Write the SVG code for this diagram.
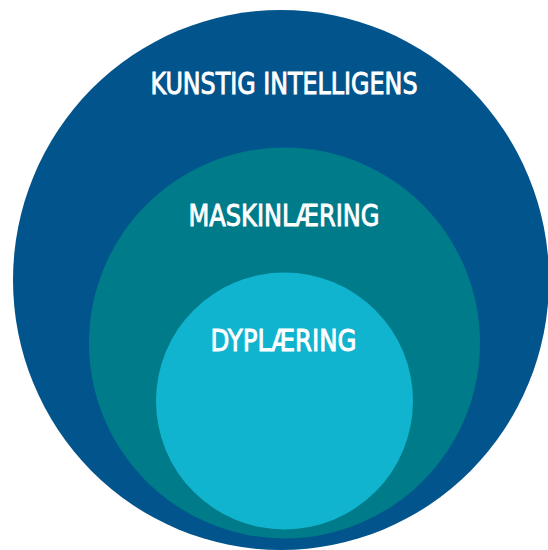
<svg xmlns="http://www.w3.org/2000/svg" width="548" height="550" viewBox="0 0 548 550">
<style>
.lbl{font-family:"DejaVu Sans Condensed","DejaVu Sans","Liberation Sans",sans-serif;font-stretch:condensed;font-size:31px;fill:#ffffff;stroke:#ffffff;stroke-width:0.9px;text-anchor:middle}
</style>
<rect width="548" height="550" fill="#ffffff"/>
<g id="kunstig-intelligens">
<ellipse cx="281" cy="280" rx="268" ry="270" fill="#02548C"/>
<text class="lbl" x="284" y="94" textLength="267" lengthAdjust="spacingAndGlyphs">KUNSTIG INTELLIGENS</text>
</g>
<g id="maskinlaering">
<circle cx="284.5" cy="343" r="195.5" fill="#007B8A"/>
<text class="lbl" x="284" y="226" textLength="191" lengthAdjust="spacingAndGlyphs">MASKINLÆRING</text>
</g>
<g id="dyplaering">
<circle cx="284.5" cy="401" r="128.5" fill="#11B4CF"/>
<text class="lbl" x="283.5" y="351" textLength="146" lengthAdjust="spacingAndGlyphs">DYPLÆRING</text>
</g>
<g id="connectors"/>
</svg>
